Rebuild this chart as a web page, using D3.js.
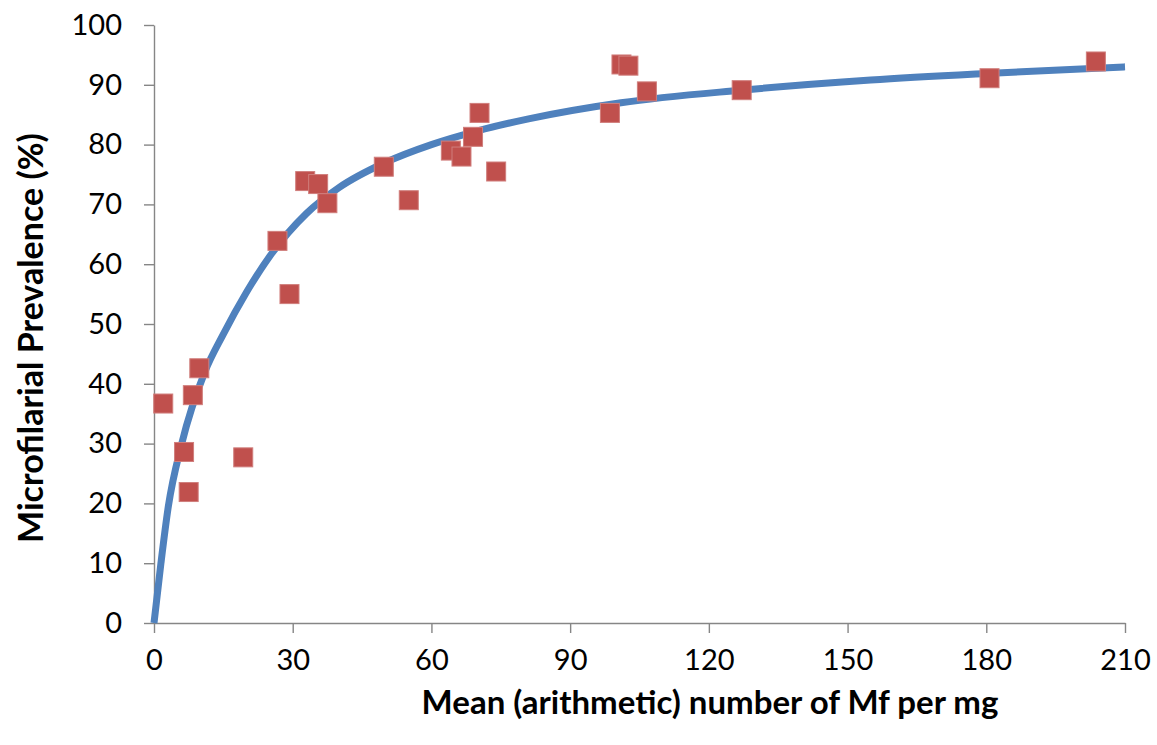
<!DOCTYPE html>
<html>
<head>
<meta charset="utf-8">
<script src="https://cdn.jsdelivr.net/npm/d3@7"></script>
<style>
  html, body { margin: 0; padding: 0; background: #fff; }
  svg { display: block; }
  .tick-label { font-family: Lato, "Open Sans", sans-serif; font-size: 29px; fill: #000; }
  .axis-title { font-family: Lato, "Open Sans", sans-serif; font-weight: bold; fill: #000; }
</style>
</head>
<body>
<svg id="chart" width="1157" height="745"></svg>
<script>
// Observed villages: mean microfilarial density vs. prevalence
const meanMf = [2.0, 6.5, 7.5, 8.4, 9.8, 19.3, 26.7, 29.3, 32.7, 35.5, 37.5, 49.7, 55.1,
                64.2, 66.5, 69.0, 70.4, 74.0, 98.6, 101.1, 102.6, 106.6, 127.1, 180.7, 203.7];
const prevalence = [36.7, 28.6, 21.9, 38.1, 42.6, 27.7, 63.9, 55.0, 73.9, 73.4, 70.2, 76.3, 70.7,
                    79.0, 78.0, 81.3, 85.3, 75.5, 85.3, 93.4, 93.2, 88.9, 89.1, 91.1, 93.9];

// Fitted relationship
const fitMf = [0, 1.5, 3.1, 6, 11, 15, 20, 25, 33, 40, 50, 60, 70, 81, 101, 127, 155, 180, 210];
const fitPrev = [0, 10, 19.5, 30, 42, 48.3, 55.3, 61.3, 68.5, 72.8, 77, 80, 82.3, 84.3, 87, 89.1, 90.8, 91.9, 93];

// Axis ticks
const xTicks = [0, 30, 60, 90, 120, 150, 180, 210];
const yTicks = [0, 10, 20, 30, 40, 50, 60, 70, 80, 90, 100];

const xTitle = "Mean (arithmetic) number of Mf per mg";
const yTitle = "Microfilarial Prevalence (%)";

(function () {
  const svg = d3.select("#chart");
  const plotLeft = 154, plotRight = 1125, plotTop = 25, plotBottom = 623;

  const x = d3.scaleLinear().domain([0, 210]).range([plotLeft, plotRight]);
  const y = d3.scaleLinear().domain([0, 100]).range([plotBottom, plotTop]);

  const axisColor = "#868686";

  // Y axis
  const yAxis = svg.append("g")
    .attr("transform", `translate(${plotLeft},0)`)
    .call(d3.axisLeft(y).tickValues(yTicks).tickSize(10).tickPadding(22).tickSizeOuter(0));
  yAxis.select(".domain").attr("stroke", axisColor).attr("stroke-width", 1.4);
  yAxis.selectAll(".tick line").attr("stroke", axisColor).attr("stroke-width", 1.4);
  yAxis.selectAll(".tick text").attr("class", "tick-label");
  yAxis.attr("font-family", null).attr("font-size", null);

  // X axis
  const xAxis = svg.append("g")
    .attr("transform", `translate(0,${plotBottom})`)
    .call(d3.axisBottom(x).tickValues(xTicks).tickSize(10).tickPadding(16).tickSizeOuter(0));
  xAxis.select(".domain").attr("stroke", axisColor).attr("stroke-width", 1.4);
  xAxis.selectAll(".tick line").attr("stroke", axisColor).attr("stroke-width", 1.4);
  xAxis.selectAll(".tick text").attr("class", "tick-label");
  xAxis.attr("font-family", null).attr("font-size", null);

  // Fitted curve
  const fitData = fitMf.map((m, i) => [m, fitPrev[i]]);
  svg.append("path")
    .datum(fitData)
    .attr("fill", "none")
    .attr("stroke", "#4F81BD")
    .attr("stroke-width", 7)
    .attr("stroke-linecap", "butt")
    .attr("d", d3.line().x(d => x(d[0])).y(d => y(d[1])).curve(d3.curveMonotoneX));

  // Observed points as square markers
  const pts = meanMf.map((m, i) => [m, prevalence[i]]);
  const ms = 19;
  svg.append("g").selectAll("rect")
    .data(pts)
    .join("rect")
    .attr("x", d => x(d[0]) - ms / 2)
    .attr("y", d => y(d[1]) - ms / 2)
    .attr("width", ms)
    .attr("height", ms)
    .attr("fill", "#C0504D")
    .attr("stroke", "#D07E7C")
    .attr("stroke-width", 1);

  // Axis titles
  svg.append("text")
    .attr("class", "axis-title")
    .attr("font-size", 33)
    .attr("x", 710)
    .attr("y", 714)
    .attr("text-anchor", "middle")
    .text(xTitle);

  svg.append("text")
    .attr("class", "axis-title")
    .attr("font-size", 34)
    .attr("transform", "translate(43,338) rotate(-90)")
    .attr("text-anchor", "middle")
    .text(yTitle);
})();
</script>
</body>
</html>
